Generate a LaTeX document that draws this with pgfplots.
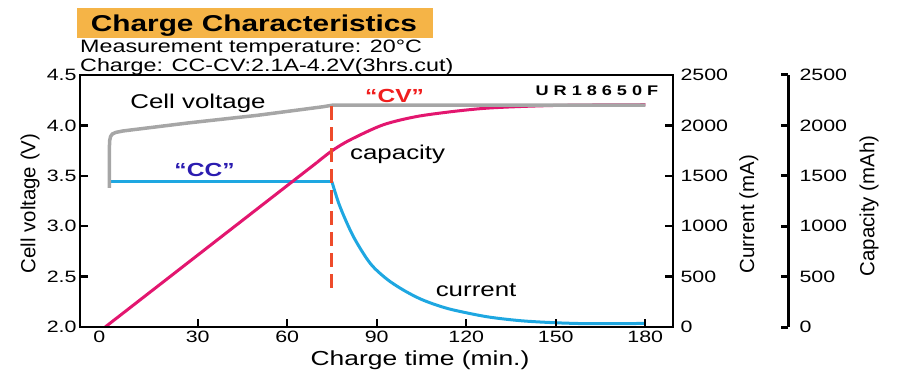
\documentclass[border=0pt]{standalone}
\usepackage{pgfplots}
\pgfplotsset{compat=1.18}
\usepackage{fontspec}
\setmainfont{Liberation Sans}[FakeStretch=1.3]
\newfontfamily\rotfont{Liberation Sans}
\definecolor{vgray}{HTML}{A6A6A6}
\definecolor{cblue}{HTML}{1EA7E1}
\definecolor{cmag}{HTML}{E3166F}
\definecolor{dred}{HTML}{EE4B2B}
\definecolor{ccblue}{HTML}{2B1CB0}
\definecolor{cvred}{HTML}{F01E1E}
\definecolor{torange}{HTML}{F5B447}
\pgfplotsset{
  base/.style={
    at={(80bp,57bp)}, anchor=south west, scale only axis,
    width=593bp, height=252bp, xmin=-9.45, xmax=189.3,
    tick align=inside,
    /pgf/number format/assume math mode=true,
    /pgf/number format/1000 sep={},
    tick label style={font=\fontsize{16.5}{18}\selectfont},
  }
}
\begin{document}
\begin{tikzpicture}[x=1bp,y=1bp]
\path[use as bounding box] (0,0) rectangle (898,384);
\fill[torange] (77,346) rectangle (433,376);
\node[anchor=base, inner sep=0, font=\bfseries\fontsize{23}{26}\selectfont] at (254,352.3) {Charge Characteristics};
\node[anchor=base west, inner sep=0, font=\fontsize{18}{20}\selectfont] at (80,331.3) {Measurement temperature: 20°C};
\node[anchor=base west, inner sep=0, font=\fontsize{18}{20}\selectfont] at (80,312.8) {Charge: CC-CV:2.1A-4.2V(3hrs.cut)};

% current / capacity data (right scale)
\begin{axis}[base, ymin=0, ymax=2500,
  axis x line=none, axis y line*=right,
  ytick={0,500,...,2500},
  y axis line style={line width=1.8bp},
  ytick style={black, line width=2.4bp},
  major tick length=8bp,
  yticklabel style={xshift=4bp},
  ylabel={\rotfont\fontsize{20.5}{24}\selectfont Current (mA)},
  ylabel style={at={(axis description cs:1.128,0.448)}, anchor=center},
]
\addplot[cblue, line width=3bp] coordinates {(0,1440) (75,1440)};
\addplot[cblue, line width=3bp, smooth, tension=0.5] coordinates {
(75,1440) (77.7,1193) (82.2,896) (87.8,632) (93.4,475) (98.9,367) (104.5,280)
(110,218) (115.7,169) (126.9,102) (138,63)
(149.2,43) (160.4,33) (171.6,33) (180,36)};
\addplot[cmag, line width=3bp] coordinates {(-1,0) (70,1633)};
\addplot[cmag, line width=3bp, smooth, tension=0.5] coordinates {
(70,1633) (75,1748) (81,1855) (92,2004) (103,2086) (115,2136) (126,2169)
(137,2186) (150,2198) (165,2203) (180,2205)};
\end{axis}

% voltage (main)
\begin{axis}[base, ymin=2, ymax=4.5,
  xtick={30,60,...,180},
  extra x ticks={-3}, extra x tick labels={0},
  extra x tick style={xtick style={draw=none}},
  ytick={2,2.5,...,4.5},
  xtick pos=bottom, ytick pos=left,
  xtick style={black, line width=2.4bp},
  ytick style={black, line width=2.4bp},
  major tick length=8bp,
  axis line style={line width=1.8bp},
  yticklabel style={/pgf/number format/.cd, fixed, fixed zerofill, precision=1},
  ylabel={\rotfont\fontsize{20.5}{24}\selectfont Cell voltage (V)},
  ylabel style={at={(axis description cs:-0.0843,0.49)}, anchor=center},
  xlabel={\fontsize{20.4}{24}\selectfont Charge time (min.)},
  xlabel style={at={(axis description cs:0.5734,0)}, anchor=base, yshift=-38bp},
]
\addplot[vgray, line width=3.5bp, line join=round] coordinates {
(0.4,3.38) (0.4,3.78) (0.5,3.85) (0.8,3.89) (1.4,3.915) (2.5,3.93) (5,3.945)
(27,4.025) (50,4.10) (72,4.185) (75,4.2) (180,4.2)};
\addplot[dred, line width=3bp, dash pattern=on 14bp off 7bp] coordinates {(75,2.39) (75,4.2)};
\node[anchor=base, inner sep=0, font=\fontsize{20}{22}\selectfont] at (axis cs:30.1,4.163) {Cell voltage};
\node[anchor=base, inner sep=0, text=ccblue, font=\bfseries\fontsize{19}{22}\selectfont] at (axis cs:32.3,3.498) {“CC”};
\node[anchor=base, inner sep=0, text=cvred, font=\bfseries\fontsize{19}{22}\selectfont] at (axis cs:96,4.232) {“CV”};
\node[anchor=base, inner sep=0, font=\fontsize{20}{22}\selectfont] at (axis cs:97,3.657) {capacity};
\node[anchor=base, inner sep=0, font=\fontsize{20}{22}\selectfont] at (axis cs:123.3,2.307) {current};
\node[anchor=base, inner sep=0, font=\bfseries\fontsize{14}{16}\selectfont] at (axis cs:163.8,4.30) {U\hspace{5bp}R\hspace{5bp}1\hspace{5bp}8\hspace{5bp}6\hspace{5bp}5\hspace{5bp}0\hspace{5bp}F};
\end{axis}

% capacity axis
\begin{axis}[base, at={(788bp,57bp)}, anchor=south east, width=10bp,
  xmin=0, xmax=1, ymin=0, ymax=2500,
  axis x line=none, axis y line*=right,
  ytick={0,500,...,2500},
  y axis line style={line width=3bp},
  ytick style={black, line width=3bp},
  major tick length=7bp,
  yticklabel style={xshift=8bp},
  ylabel={\rotfont\fontsize{20.5}{24}\selectfont Capacity (mAh)},
  ylabel style={at={(axis description cs:9.1,0.48)}, anchor=center},
]
\end{axis}
\end{tikzpicture}
\end{document}
